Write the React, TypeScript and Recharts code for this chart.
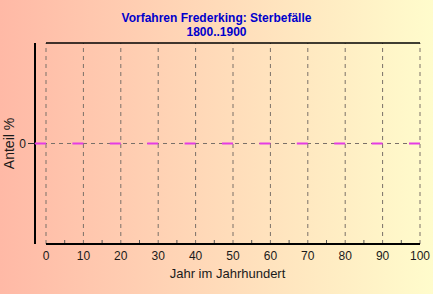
import {
  ComposedChart,
  ReferenceLine,
  Scatter,
  XAxis,
  YAxis,
} from "recharts";

const YEARS = [0, 10, 20, 30, 40, 50, 60, 70, 80, 90, 100];
const DEATH_SHARE = [0, 0, 0, 0, 0, 0, 0, 0, 0, 0, 0];
const X_TICKS = [0, 5, 10, 15, 20, 25, 30, 35, 40, 45, 50, 55, 60, 65, 70, 75, 80, 85, 90, 95, 100];
const Y_TICKS = [0];

const TITLE = "Vorfahren Frederking: Sterbefälle";
const SUBTITLE = "1800..1900";

const data = YEARS.map((year, i) => ({ year, share: DEATH_SHARE[i] }));

const FONT = "'Liberation Sans', Arial, sans-serif";

function YearTick({ x, y, payload }: { x?: number; y?: number; payload?: { value: number } }) {
  const v = payload?.value ?? 0;
  if (v % 10 !== 0) {
    return <line x1={x} x2={x} y1={(y ?? 0) - 1} y2={(y ?? 0) - 4} stroke="#555" />;
  }
  return (
    <text x={x} y={(y ?? 0) + 16} textAnchor="middle" fontSize={12} fill="#1a1a1a" fontFamily={FONT}>
      {v}
    </text>
  );
}

function Dash({ cx, cy }: { cx?: number; cy?: number }) {
  if (cx == null || cy == null) return null;
  return <line x1={cx - 11} x2={cx} y1={cy} y2={cy} stroke="#e43ce4" strokeWidth={2} />;
}

export default function App() {
  return (
    <div
      style={{
        position: "fixed",
        left: 0,
        top: 0,
        width: 433,
        height: 294,
        background: "linear-gradient(to right, #ffb9a6, #fffccc)",
        fontFamily: FONT,
      }}
    >
      <div
        style={{
          position: "absolute",
          left: 0,
          top: 11,
          width: 433,
          textAlign: "center",
          color: "#0000cc",
          fontWeight: "bold",
          fontSize: 12,
          lineHeight: "14px",
        }}
      >
        <div>{TITLE}</div>
        <div>{SUBTITLE}</div>
      </div>
      <div style={{ position: "absolute", left: 0, top: 0 }}>
        <ComposedChart
          width={433}
          height={294}
          data={data}
          margin={{ top: 43, right: 13, bottom: 10, left: 0 }}
        >
          {YEARS.map((t) => (
            <ReferenceLine key={t} x={t} stroke="#7a7068" strokeDasharray="4 4" />
          ))}
          <ReferenceLine y={0} stroke="#7a7068" strokeDasharray="4 4" />
          <ReferenceLine
            segment={[{ x: 0, y: 1 }, { x: 100, y: 1 }]}
            stroke="#000"
            strokeWidth={1.5}
          />
          <ReferenceLine
            segment={[{ x: 0, y: -1 }, { x: 100, y: -1 }]}
            stroke="#000"
            strokeWidth={2}
          />
          <XAxis
            type="number"
            dataKey="year"
            domain={[0, 100]}
            ticks={X_TICKS}
            interval={0}
            padding={{ left: 11, right: 0 }}
            axisLine={false}
            tickLine={false}
            tickSize={0}
            tickMargin={0}
            height={40}
            tick={<YearTick />}
            label={{
              value: "Jahr im Jahrhundert",
              position: "insideBottom",
              offset: 6,
              fontSize: 13,
              fill: "#1a1a1a",
            }}
          />
          <YAxis
            type="number"
            domain={[-1, 1]}
            ticks={Y_TICKS}
            width={35}
            axisLine={{ stroke: "#000", strokeWidth: 2 }}
            tickLine={{ stroke: "#333" }}
            tickSize={7}
            tickMargin={2}
            tick={{ fill: "#1a1a1a", fontSize: 12 }}
            label={{
              value: "Anteil %",
              angle: -90,
              position: "insideLeft",
              offset: 9,
              fontSize: 14,
              fill: "#1a1a1a",
              style: { textAnchor: "middle" },
            }}
          />
          <Scatter dataKey="share" shape={<Dash />} isAnimationActive={false} />
        </ComposedChart>
      </div>
    </div>
  );
}
